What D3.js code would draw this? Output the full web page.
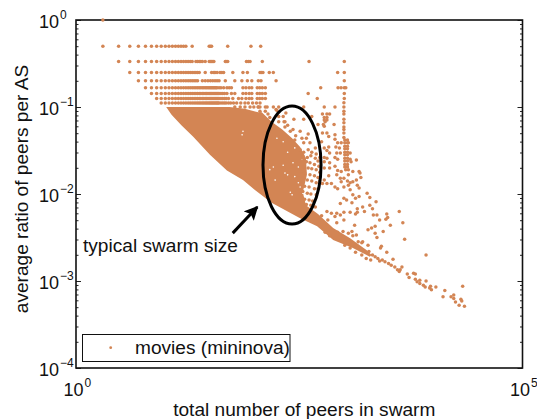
<!DOCTYPE html>
<html>
<head>
<meta charset="utf-8">
<script src="https://cdnjs.cloudflare.com/ajax/libs/d3/7.8.5/d3.min.js"></script>
<style>
    html, body { margin: 0; padding: 0; background: #fff; }
    text { font-family: "Liberation Sans", Arial, sans-serif; fill: #111; }
</style>
</head>
<body>
<div id="chart"></div>
<script>
// Peers in swarm for each horizontal row of points, rows are ratio = 1/k
let rowRatios = [1, 0.5, 0.3333, 0.25, 0.2, 0.1667, 0.1429, 0.125, 0.1111, 0.1];
let rowPeers = [
    [2],
    [2,3,4,5,6,7,8,9,10,11,12,13,14,15,16,17,20,31,32,33,50,91,117],
    [3,4,5,6,7,8,9,10,11,12,13,14,15,16,17,18,19,20,22,23,24,25,26,28,31,32,33,34,35,47,48,50,81,85,89,122,407,1010],
    [4,5,6,7,8,9,10,11,12,13,14,15,16,17,18,19,20,21,22,23,24,28,33,35,36,38,41,43,45,57,74,83,115,119,124,146,162,851,1010],
    [5,6,7,8,9,10,11,12,13,14,15,16,17,18,19,20,21,22,23,26,28,30,32,34,36,38,40,47,60,72,83,93,110,118,174,1010],
    [6,7,8,9,10,11,12,13,14,15,16,17,18,19,20,21,22,23,24,25,26,27,28,29,30,31,32,33,34,35,36,37,38,40,42,45,49,52,55,74,80,87,93,107,114,122,132,550,860,930,1010,1050],
    [7,8,9,10,11,12,13,14,15,16,17,18,19,20,21,22,23,24,25,26,27,28,29,30,31,32,33,34,35,36,37,38,39,40,42,44,46,49,55,60,74,80,87,93,107,114,122,132,398,1010],
    [8,9,10,11,12,13,14,15,16,17,18,19,20,21,22,23,24,25,26,27,28,29,30,31,32,33,34,35,36,37,38,39,40,42,44,46,48,51,57,66,72,80,87,93,107,114,122,132,503,1010],
    [9,10,11,12,13,14,15,16,17,18,19,20,21,22,23,24,25,26,27,28,29,30,31,32,33,34,35,36,37,38,39,40,42,44,46,48,51,54,58,63,70,78,85,95,105,115],
    [60,69,78,89,98,110]
];

// Solid part of the cloud, outline
let cloudLogPeers = [1.01,1.39,1.72,1.89,2.04,2.08,2.19,2.31,2.42,2.51,2.575,2.586,2.54,2.575,2.71,2.88,3.07,3.26,3.31,3.29,3.10,2.88,2.70,2.51,2.19,2.00,1.87,1.69,1.50,1.31,1.18,1.07];
let cloudLogRatio = [-1.00,-1.00,-1.00,-1.02,-1.06,-1.06,-1.17,-1.26,-1.36,-1.46,-1.59,-1.78,-1.98,-2.13,-2.23,-2.39,-2.51,-2.65,-2.70,-2.72,-2.62,-2.53,-2.37,-2.28,-2.10,-1.95,-1.84,-1.73,-1.55,-1.34,-1.21,-1.09];

// Small holes left in the solid part
let gapLogPeers = [2.34,2.37,2.43,2.49,2.40,2.42,2.49,2.51,2.45,2.32,2.54,2.59,2.23,2.25,2.32,2.37,2.45,2.53,1.86,1.87,2.21,2.17];
let gapLogRatio = [-1.76,-1.78,-1.64,-1.69,-1.98,-2.01,-1.87,-1.92,-1.80,-1.67,-1.99,-2.05,-1.84,-1.36,-1.40,-1.52,-1.47,-1.61,-1.32,-1.28,-1.69,-1.72];

// Separate points around the cloud, exponents as well
let scatterLogPeers = [
    2.78,2.90,2.55,2.21,2.27,2.25,2.35,2.64,2.76,2.81,2.84,2.78,2.81,2.78,2.81,2.27,2.44,2.55,2.34,2.27,2.71,2.77,2.89,
    2.04,2.06,2.12,2.14,2.06,2.12,2.15,2.17,
    3.00,3.00,3.00,3.00,3.00,3.00,3.00,3.00,3.00,3.00,
    3.01,3.04,3.01,3.04,3.01,3.04,3.01,3.04,3.01,3.04,3.01,3.04,3.01,3.04,3.01,3.04,3.01,3.04,3.01,3.04,3.02,3.05,2.93,2.97,3.05,
    2.79,2.78,2.76,2.81,2.90,2.83,2.90,2.75,2.83,2.78,2.81,2.84,2.91,2.95,2.96,2.92,3.07,2.78,2.81,2.90,2.93,3.07,3.14,3.08,2.84,2.78,2.90,2.84,2.78,2.93,2.97,3.10,3.17,3.18,3.05,2.92,2.83,3.19,3.14,2.96,3.00,2.97,3.04,3.07,3.10,2.78,2.81,2.86,2.90,2.93,3.00,3.05,3.15,3.17,2.76,
    3.26,3.29,3.36,3.17,3.10,3.07,3.00,3.03,3.09,3.13,2.96,3.29,3.21,3.32,3.15,3.15,3.23,3.07,3.00,2.81,2.86,2.92,2.96,2.90,3.00,3.13,3.33,3.37,3.48,3.49,3.47,3.40,3.62,3.66,3.52,3.35,3.31,3.12,2.92,3.44,3.35,3.37,3.27,3.68,3.42,3.41,3.48,3.09,3.14,3.21,3.27,
    3.71,3.73,3.78,3.80,3.80,3.82,3.85,3.85,3.89,3.92,3.91,3.96,3.97,3.98,4.03,4.13,4.11,4.20,4.23,4.23,4.25,4.29,4.31,4.32,4.33,4.35,3.92,3.55,3.62,3.63,3.65,3.60,3.57,3.53,3.50,3.46,3.43,3.40,3.38,3.35,3.30,3.32,3.28,
    2.51,2.55,2.60,2.64,2.69,2.73,2.54,2.59,2.63,2.68,2.71,2.53,2.58,2.62,2.67,2.72,2.55,2.60,2.64,2.69,2.73,2.52,2.56,2.62,2.67,2.71,2.54,2.59,2.64,2.69,2.73,2.52,2.56,2.61,2.67,2.71,2.54,2.59,2.63,2.69,2.52,2.56,2.61,2.65,2.58,2.63,2.68,
    2.93,2.99,3.05,3.10,3.16,3.20,3.01,3.07,3.13,3.20,3.25,2.75,2.82,2.79,2.84,
    2.24,2.32,2.37,2.43,2.51,2.34,2.40,2.60,2.53,2.58,2.62,2.45,2.46,2.55,2.68,2.33
];
let scatterLogRatio = [
    -1.00,-1.00,-1.00,-1.00,-1.00,-1.04,-1.07,-1.11,-1.08,-1.08,-1.08,-1.12,-1.12,-1.15,-1.15,-1.11,-1.14,-1.14,-1.17,-1.17,-1.20,-1.20,-1.20,
    -1.00,-1.00,-1.00,-1.00,-1.05,-1.05,-1.08,-1.12,
    -0.95,-1.00,-1.05,-1.08,-1.14,-1.18,-1.23,-1.26,-1.30,-1.35,
    -1.38,-1.38,-1.41,-1.41,-1.45,-1.45,-1.48,-1.48,-1.52,-1.52,-1.55,-1.55,-1.59,-1.59,-1.62,-1.62,-1.66,-1.66,-1.69,-1.69,-1.72,-1.72,-1.41,-1.41,-1.41,
    -1.17,-1.22,-1.30,-1.30,-1.32,-1.34,-1.37,-1.40,-1.46,-1.47,-1.50,-1.53,-1.46,-1.47,-1.53,-1.53,-1.53,-1.58,-1.59,-1.58,-1.60,-1.60,-1.61,-1.63,-1.64,-1.63,-1.68,-1.70,-1.70,-1.73,-1.74,-1.74,-1.74,-1.76,-1.78,-1.78,-1.79,-1.81,-1.84,-1.82,-1.82,-1.86,-1.85,-1.87,-1.86,-1.84,-1.88,-1.88,-1.92,-1.94,-1.92,-1.90,-1.90,-1.93,-1.88,
    -1.99,-2.04,-2.09,-2.03,-2.01,-1.95,-2.05,-2.07,-2.10,-2.05,-2.11,-2.13,-2.15,-2.17,-2.17,-2.21,-2.20,-2.21,-2.21,-2.20,-2.22,-2.22,-2.24,-2.26,-2.30,-2.23,-2.24,-2.24,-2.23,-2.27,-2.29,-2.30,-2.20,-2.33,-2.36,-2.37,-2.39,-2.36,-2.33,-2.43,-2.45,-2.50,-2.41,-2.52,-2.60,-2.62,-2.67,-2.43,-2.47,-2.55,-2.59,
    -2.92,-2.96,-2.91,-2.92,-2.98,-3.01,-2.99,-3.03,-3.05,-3.00,-3.07,-3.08,-3.06,-3.10,-3.07,-3.11,-3.18,-3.18,-3.16,-3.20,-3.24,-3.28,-3.21,-3.23,-3.06,-3.29,-2.70,-2.75,-2.89,-2.87,-2.84,-2.87,-2.84,-2.82,-2.80,-2.78,-2.76,-2.77,-2.74,-2.72,-2.76,-2.70,-2.66,
    -1.49,-1.52,-1.49,-1.52,-1.54,-1.58,-1.56,-1.58,-1.56,-1.59,-1.62,-1.62,-1.63,-1.64,-1.66,-1.68,-1.69,-1.70,-1.71,-1.72,-1.75,-1.74,-1.76,-1.78,-1.79,-1.81,-1.82,-1.84,-1.85,-1.87,-1.85,-1.89,-1.91,-1.92,-1.94,-1.94,-1.97,-1.99,-2.00,-2.01,-2.04,-2.06,-2.07,-2.08,-2.12,-2.13,-2.15,
    -2.44,-2.43,-2.45,-2.48,-2.55,-2.56,-2.59,-2.62,-2.67,-2.70,-2.74,-2.25,-2.30,-2.44,-2.48,
    -1.03,-1.11,-1.21,-1.26,-1.28,-1.23,-1.28,-1.31,-1.36,-1.36,-1.41,-1.38,-1.33,-1.41,-1.47,-1.17
];

let decades = [0, -1, -2, -3, -4];
let minorSteps = [2, 3, 4, 5, 6, 7, 8, 9];
let xLabels = [{value: 1, exp: "0"}, {value: 1e5, exp: "5"}];
let legendLabel = "movies (mininova)";
let noteLabel = "typical swarm size";
let xTitle = "total number of peers in swarm";
let yTitle = "average ratio of peers per AS";

let margin = {top: 20, right: 14.5, bottom: 51, left: 76};
let width = 537 - margin.left - margin.right;
let height = 419 - margin.top - margin.bottom;
let color = "#d38554";
let dotRadius = 1.75;

let svg = d3.select("#chart").append("svg")
    .attr("width", 537)
    .attr("height", 419)
    .style("display", "block");

let defs = svg.append("defs");
defs.append("marker")
    .attr("id", "head")
    .attr("viewBox", "0 0 10 10")
    .attr("refX", 9)
    .attr("refY", 5)
    .attr("markerWidth", 4.6)
    .attr("markerHeight", 4.6)
    .attr("markerUnits", "strokeWidth")
    .attr("orient", "auto")
    .append("path")
    .attr("d", "M0,0 L10,5 L0,10 L2,5 Z")
    .attr("fill", "#000");

let g = svg.append("g")
    .attr("transform", `translate(${margin.left}, ${margin.top})`);

// Scales
let x = d3.scaleLog().domain([1, 1e5]).range([0, width]);
let y = d3.scaleLog().domain([1e-4, 1]).range([height, 0]);

// Only the y axis has ticks, they point inward on both sides
let minorValues = decades.slice(1).flatMap(e => minorSteps.map(s => s * Math.pow(10, e)));
let majorValues = decades.map(e => Math.pow(10, e));

function yTicks(axisFn, values, size) {
    return axisFn(y).tickValues(values).tickSize(size).tickFormat("");
}

let leftMinor = g.append("g").call(yTicks(d3.axisLeft, minorValues, -2.5));
let leftMajor = g.append("g").call(yTicks(d3.axisLeft, majorValues, -5));
let rightMinor = g.append("g").attr("transform", `translate(${width}, 0)`).call(yTicks(d3.axisRight, minorValues, -2.5));
let rightMajor = g.append("g").attr("transform", `translate(${width}, 0)`).call(yTicks(d3.axisRight, majorValues, -5));
[leftMinor, leftMajor, rightMinor, rightMajor].forEach(a => {
    a.select(".domain").remove();
    a.selectAll("line").attr("stroke", "#222").attr("stroke-width", 1);
});

// Frame
g.append("rect")
    .attr("width", width)
    .attr("height", height)
    .attr("fill", "none")
    .attr("stroke", "#111")
    .attr("stroke-width", 1.6);

// Y tick labels
decades.forEach(e => {
    let label = g.append("text")
        .attr("x", -37)
        .attr("y", y(Math.pow(10, e)) + 7.5)
        .style("font-size", "18px")
        .text("10");
    label.append("tspan")
        .attr("dy", -9)
        .attr("dx", 1)
        .style("font-size", "12px")
        .text(e == 0 ? "0" : "\u2212" + Math.abs(e));
});

// X tick labels
xLabels.forEach(d => {
    let label = g.append("text")
        .attr("x", x(d.value) - 12.5)
        .attr("y", height + 27.5)
        .style("font-size", "18px")
        .text("10");
    label.append("tspan")
        .attr("dy", -9)
        .attr("dx", 1)
        .style("font-size", "12px")
        .text(d.exp);
});

// Axis titles
g.append("text")
    .attr("x", width / 2 + 5)
    .attr("y", height + 47.5)
    .attr("text-anchor", "middle")
    .style("font-size", "19.1px")
    .text(xTitle);

g.append("text")
    .attr("transform", "rotate(-90)")
    .attr("x", -169)
    .attr("y", -48)
    .attr("text-anchor", "middle")
    .style("font-size", "19.1px")
    .text(yTitle);

// Dense part of the cloud
let cloud = cloudLogPeers.map((d, i) => [x(Math.pow(10, d)), y(Math.pow(10, cloudLogRatio[i]))]);
g.append("path")
    .attr("d", d3.line()(cloud) + "Z")
    .attr("fill", color);

g.selectAll(".gap")
    .data(gapLogPeers.map((d, i) => ({peers: Math.pow(10, d), ratio: Math.pow(10, gapLogRatio[i])})))
    .join("circle")
    .attr("class", "gap")
    .attr("cx", d => x(d.peers))
    .attr("cy", d => y(d.ratio))
    .attr("r", 0.8)
    .attr("fill", "#fff");

// Rows of points
let rowPoints = rowPeers.flatMap((peers, i) => peers.map(p => ({peers: p, ratio: rowRatios[i]})));
g.selectAll(".row-dot")
    .data(rowPoints)
    .join("circle")
    .attr("class", "row-dot")
    .attr("cx", d => x(d.peers))
    .attr("cy", d => y(d.ratio))
    .attr("r", dotRadius)
    .attr("fill", color);

// Loose points
let scatter = scatterLogPeers.map((d, i) => ({peers: Math.pow(10, d), ratio: Math.pow(10, scatterLogRatio[i])}));
g.selectAll(".dot")
    .data(scatter)
    .join("circle")
    .attr("class", "dot")
    .attr("cx", d => x(d.peers))
    .attr("cy", d => y(d.ratio))
    .attr("r", dotRadius)
    .attr("fill", color);

// Ellipse around the typical swarm sizes
g.append("ellipse")
    .attr("cx", x(Math.pow(10, 2.419)))
    .attr("cy", y(Math.pow(10, -1.667)))
    .attr("rx", (x(Math.pow(10, 2.744)) - x(Math.pow(10, 2.094))) / 2)
    .attr("ry", (y(Math.pow(10, -2.345)) - y(Math.pow(10, -0.989))) / 2)
    .attr("fill", "none")
    .attr("stroke", "#000")
    .attr("stroke-width", 3);

// Arrow and its note
g.append("line")
    .attr("x1", x(Math.pow(10, 1.755)))
    .attr("y1", y(Math.pow(10, -2.45)))
    .attr("x2", x(Math.pow(10, 2.03)))
    .attr("y2", y(Math.pow(10, -2.15)))
    .attr("stroke", "#000")
    .attr("stroke-width", 3)
    .attr("marker-end", "url(#head)");

g.append("text")
    .attr("x", 7)
    .attr("y", 231.5)
    .style("font-size", "19.1px")
    .text(noteLabel);

// Legend
let legend = g.append("g");
legend.append("rect")
    .attr("x", 6.5)
    .attr("y", 314.5)
    .attr("width", 207.5)
    .attr("height", 27)
    .attr("fill", "#fff")
    .attr("stroke", "#111")
    .attr("stroke-width", 1);
legend.append("circle")
    .attr("cx", 34.7)
    .attr("cy", 327.7)
    .attr("r", 1.4)
    .attr("fill", color);
legend.append("text")
    .attr("x", 59)
    .attr("y", 334)
    .style("font-size", "19.1px")
    .text(legendLabel);
</script>
</body>
</html>
